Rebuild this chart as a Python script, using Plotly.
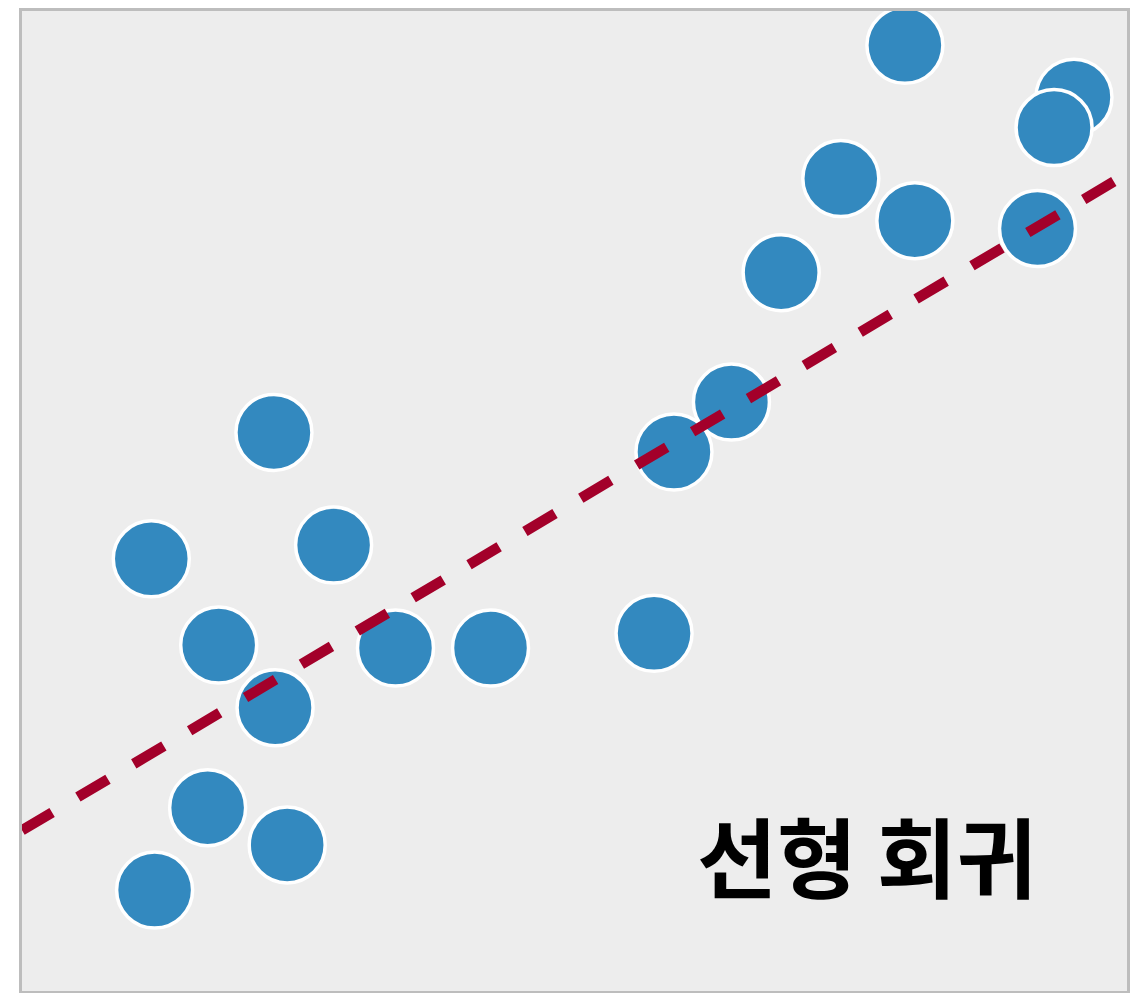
import plotly.graph_objects as go

# 산점도 데이터 (0~100 축 기준)
x_pts = [79.9, 95.2, 93.4, 74.1, 80.8, 91.9, 68.7, 64.2, 59.0, 22.8,
         11.7, 28.2, 17.8, 33.8, 42.4, 57.2, 22.9, 16.8, 24.0, 12.0]
y_pts = [96.5, 91.2, 88.1, 82.9, 78.6, 77.8, 73.3, 60.1, 55.0, 57.0,
         44.1, 45.5, 35.3, 35.0, 35.0, 36.5, 28.9, 18.7, 14.9, 10.3]

# 회귀선 양 끝점
line_x = [0, 100]
line_y = [16.4, 83.4]

label = "선형 회귀"

fig = go.Figure()

fig.add_trace(go.Scatter(
    x=x_pts, y=y_pts, mode="markers",
    marker=dict(size=76, color="#3389bf", line=dict(color="white", width=3.5)),
    showlegend=False))

fig.add_trace(go.Scatter(
    x=line_x, y=line_y, mode="lines",
    line=dict(color="#a3002a", width=10.5, dash="35px,30px"),
    showlegend=False))

fig.add_annotation(
    x=0.765, y=0.14, xref="paper", yref="paper", text="<b>" + label + "</b>",
    xanchor="center", yanchor="middle",
    showarrow=False, font=dict(family="Noto Sans CJK KR", size=87, color="black"))

axis = dict(range=[0, 100], showgrid=False, zeroline=False, showticklabels=False,
            ticks="", showline=True, mirror=True, linecolor="#bdbdbd", linewidth=3)

# 페이지 여백(8px)을 감안한 크기 (스크롤바가 생기지 않도록)
fig.update_layout(
    width=1122, height=985,
    margin=dict(l=14, r=0, t=1, b=2),
    paper_bgcolor="white", plot_bgcolor="#ededed",
    xaxis=axis, yaxis=axis)

fig.write_html("out.html")
